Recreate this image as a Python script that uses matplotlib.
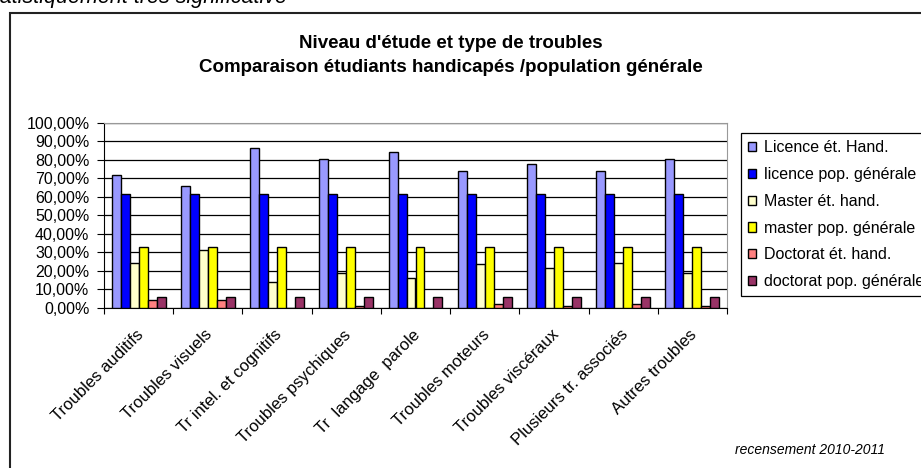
import numpy as np
import matplotlib
matplotlib.use("Agg")
import matplotlib.pyplot as plt
from matplotlib.patches import Rectangle
from matplotlib.ticker import FuncFormatter, FixedLocator
from matplotlib.transforms import ScaledTranslation

plt.rcParams['font.family'] = ['Liberation Sans', 'DejaVu Sans']

categories = ["Troubles auditifs", "Troubles visuels", "Tr intel. et cognitifs",
              "Troubles psychiques", "Tr  langage  parole", "Troubles moteurs",
              "Troubles viscéraux", "Plusieurs tr. associés", "Autres troubles"]

licence_hand = [71.7, 65.6, 86.5, 80.2, 84.3, 73.9, 77.5, 73.9, 80.2]
licence_pop = [61.3] * 9
master_hand = [24.0, 31.0, 13.7, 18.6, 15.9, 23.6, 21.5, 24.2, 18.6]
master_pop = [32.6] * 9
doctorat_hand = [4.2, 4.2, 0.0, 1.1, 0.0, 2.0, 1.1, 2.0, 1.1]
doctorat_pop = [6.0] * 9

series = [
    ("Licence ét. Hand.", licence_hand, "#9999FF"),
    ("licence pop. générale", licence_pop, "#0000FF"),
    ("Master ét. hand.", master_hand, "#FFFFCC"),
    ("master pop. générale", master_pop, "#FFFF00"),
    ("Doctorat ét. hand.", doctorat_hand, "#FF8080"),
    ("doctorat pop. générale", doctorat_pop, "#993366"),
]

W, H = 921, 468
fig = plt.figure(figsize=(W / 100, H / 100), dpi=100)

# outer chart frame (cut at right and bottom like the screenshot)
fig.patches.append(Rectangle((10 / W, -0.05), 1.1, 1 - 13 / H + 0.05,
                             transform=fig.transFigure, fill=False,
                             edgecolor="#222222", linewidth=1.5))

# caption above the chart, partly outside the picture as in the screenshot
fig.text(-17 / W, 1 - 3 / H, "statistiquement très significative", fontsize=15.5,
         style="italic", ha="left", va="baseline")

ax = fig.add_axes([104 / W, 1 - 307.7 / H, (727 - 104) / W, (307.7 - 122.7) / H])

x = np.arange(len(categories))
bw = 0.13
for i, (name, vals, col) in enumerate(series):
    ax.bar(x + (i - 2.5) * bw, vals, bw, color=col, edgecolor="black",
           linewidth=1.0, label=name, zorder=3)

ax.set_xlim(-0.5, len(categories) - 0.5)
ax.set_ylim(0, 100)
ax.set_yticks(np.arange(0, 101, 10))
ax.yaxis.set_major_formatter(FuncFormatter(lambda v, p: f"{v:.2f}%".replace(".", ",")))
ax.grid(axis="y", color="black", linewidth=0.9, zorder=0)
ax.tick_params(axis="y", length=5, labelsize=11.5, pad=5.5)

ax.xaxis.set_major_locator(FixedLocator(np.arange(-0.5, len(categories), 1)))
ax.xaxis.set_minor_locator(FixedLocator(x))
ax.set_xticklabels([])
ax.set_xticklabels(categories, minor=True, rotation=45, ha="right",
                   rotation_mode="anchor", fontsize=12)
ax.tick_params(axis="x", which="major", length=4, direction="out")
ax.tick_params(axis="x", which="minor", length=0, pad=14)
shift = ScaledTranslation(-3 / 100, 0, fig.dpi_scale_trans)
for lbl in ax.get_xticklabels(minor=True):
    lbl.set_transform(lbl.get_transform() + shift)

for s in ("top", "right"):
    ax.spines[s].set_color("#999999")
ax.spines["left"].set_color("black")
ax.spines["bottom"].set_color("black")

fig.text(451 / W, 1 - 47.7 / H, "Niveau d'étude et type de troubles", ha="center",
         va="baseline", fontsize=13.5, fontweight="bold")
fig.text(451 / W, 1 - 71.7 / H, "Comparaison étudiants handicapés /population générale",
         ha="center", va="baseline", fontsize=13.5, fontweight="bold")

leg = ax.legend(loc="upper left", bbox_to_anchor=(741 / W, 1 - 133 / H),
                bbox_transform=fig.transFigure, fontsize=11.5, fancybox=False,
                framealpha=1, edgecolor="black", handlelength=0.5,
                handleheight=0.5, handletextpad=0.46, labelspacing=0.74,
                borderaxespad=0, borderpad=0.45)
leg.get_frame().set_linewidth(0.9)

fig.text(885 / W, 1 - 450 / H, "recensement 2010-2011", ha="right", va="center",
         fontsize=10, style="italic")

fig.savefig("out.png", dpi=100)
